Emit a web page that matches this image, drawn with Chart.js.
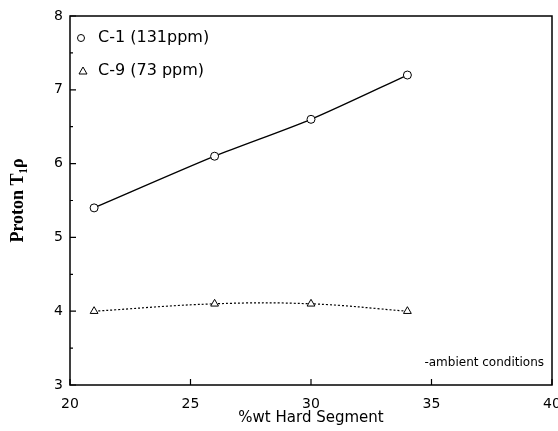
<!DOCTYPE html>
<html>
<head>
<meta charset="utf-8">
<script src="https://cdn.jsdelivr.net/npm/chart.js@4.4.0/dist/chart.umd.min.js"></script>
<style>
  html, body { margin: 0; padding: 0; background: #fff; }
  #wrap { width: 558px; height: 431px; }
</style>
</head>
<body>
<div id="wrap"><canvas id="grafico"></canvas></div>
<script>
// dados
const pctHard = [21, 26, 30, 34];
const c1 = [5.4, 6.1, 6.6, 7.2];
const c9 = [4.0, 4.1, 4.1, 4.0];
const xTicks = [20, 25, 30, 35, 40];
const yTicks = [3, 4, 5, 6, 7, 8];
const legendLabels = ["C-1 (131ppm)", "C-9 (73 ppm)"];
const note = "-ambient conditions";

const fonte = "'DejaVu Sans', sans-serif";

/* ============================================================
   MOLDURA, TICKS PARA DENTRO E LEGENDA
============================================================ */
const moldura = {
  id: "moldura",
  afterDatasetsDraw(chart) {
    const { ctx, chartArea: a, scales } = chart;
    ctx.save();
    ctx.strokeStyle = "#000";
    ctx.lineWidth = 1.5;
    ctx.strokeRect(a.left, a.top, a.right - a.left, a.bottom - a.top);

    ctx.lineWidth = 1.2;
    ctx.beginPath();
    xTicks.forEach((v) => {
      const x = scales.x.getPixelForValue(v);
      ctx.moveTo(x, a.bottom);
      ctx.lineTo(x, a.bottom - 6);
    });
    yTicks.forEach((v) => {
      const y = scales.y.getPixelForValue(v);
      ctx.moveTo(a.left, y);
      ctx.lineTo(a.left + 6, y);
      if (v < 8) {
        const y2 = scales.y.getPixelForValue(v + 0.5);
        ctx.moveTo(a.left, y2);
        ctx.lineTo(a.left + 3, y2);
      }
    });
    ctx.stroke();

    // legenda dentro do gráfico
    ctx.fillStyle = "#000";
    ctx.font = "16px " + fonte;
    ctx.textBaseline = "middle";
    ctx.lineWidth = 1;
    ctx.beginPath();
    ctx.arc(a.left + 11, a.top + 22, 3.5, 0, Math.PI * 2);
    ctx.stroke();
    ctx.fillText(legendLabels[0], a.left + 28, a.top + 22);

    ctx.beginPath();
    ctx.moveTo(a.left + 13, a.top + 51);
    ctx.lineTo(a.left + 9, a.top + 58);
    ctx.lineTo(a.left + 17, a.top + 58);
    ctx.closePath();
    ctx.stroke();
    ctx.fillText(legendLabels[1], a.left + 28, a.top + 55);

    ctx.font = "12px " + fonte;
    ctx.textAlign = "right";
    ctx.fillText(note, a.right - 8, a.bottom - 22);
    ctx.restore();
  },
};

new Chart(document.getElementById("grafico"), {
  type: "line",
  data: {
    datasets: [
      {
        label: legendLabels[0],
        data: pctHard.map((x, i) => ({ x, y: c1[i] })),
        borderColor: "#000",
        borderWidth: 1.3,
        tension: 0.25,
        pointStyle: "circle",
        pointRadius: 4,
        pointBackgroundColor: "#fff",
        pointBorderColor: "#000",
        pointBorderWidth: 1,
      },
      {
        label: legendLabels[1],
        data: pctHard.map((x, i) => ({ x, y: c9[i] })),
        borderColor: "#000",
        borderWidth: 1.2,
        borderDash: [2, 2],
        tension: 0.4,
        pointStyle: "triangle",
        pointRadius: 4.5,
        pointBackgroundColor: "#fff",
        pointBorderColor: "#000",
        pointBorderWidth: 1,
      },
    ],
  },
  options: {
    responsive: true,
    maintainAspectRatio: false,
    animation: false,
    layout: { padding: { top: 16, right: 6, left: 0, bottom: 0 } },
    plugins: {
      legend: { display: false },
      tooltip: { enabled: false },
    },
    scales: {
      x: {
        type: "linear",
        min: 20,
        max: 40,
        afterBuildTicks: (s) => { s.ticks = xTicks.map((v) => ({ value: v })); },
        afterFit: (s) => { s.height = 46; s.paddingLeft = 0; s.paddingRight = 0; },
        grid: { display: false, drawTicks: false },
        border: { display: false },
        ticks: { color: "#000", font: { family: fonte, size: 14 }, padding: 11 },
        title: {
          display: true,
          text: "%wt Hard Segment",
          color: "#000",
          font: { family: fonte, size: 15 },
          padding: { top: 0 },
        },
      },
      y: {
        min: 3,
        max: 8,
        afterBuildTicks: (s) => { s.ticks = yTicks.map((v) => ({ value: v })); },
        afterFit: (s) => { s.width = 70; },
        grid: { display: false, drawTicks: false },
        border: { display: false },
        ticks: { color: "#000", font: { family: fonte, size: 14 }, padding: 7 },
        title: {
          display: true,
          text: "Proton T\u2081\u03C1",
          color: "#000",
          font: { family: "'Liberation Serif', serif", size: 18, weight: "bold" },
          padding: { top: 8, bottom: 0 },
        },
      },
    },
  },
  plugins: [moldura],
});
</script>
</body>
</html>
